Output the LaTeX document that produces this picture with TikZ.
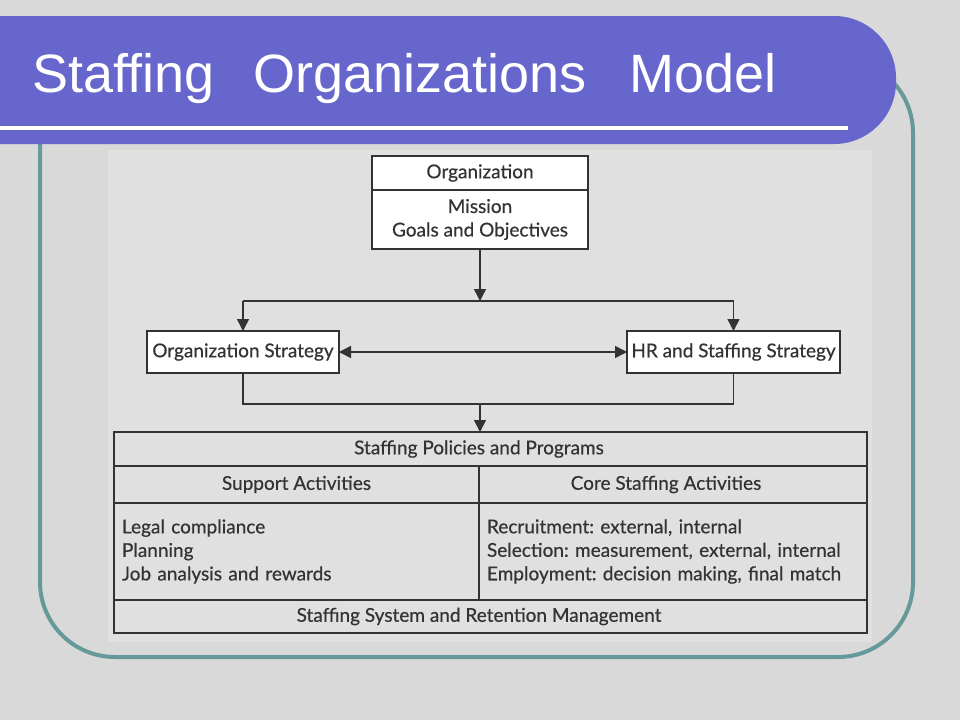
\documentclass[tikz,border=0pt]{standalone}
\usepackage{fontspec}
\setmainfont[FakeBold=0.5]{Lato}
\newfontfamily\titlefont{Liberation Sans}
\usetikzlibrary{arrows.meta, positioning}
\frenchspacing

\definecolor{slidegray}{HTML}{D9D9D9}
\definecolor{picgray}{HTML}{E0E0E0}
\definecolor{bannerblue}{HTML}{6666CC}
\definecolor{frameteal}{HTML}{669999}
\definecolor{inkgray}{HTML}{333333}

\tikzset{
  box/.style={draw=inkgray, line width=1.5pt, fill=white, text=inkgray,
              font=\fontsize{19}{23.5}\selectfont, inner sep=0pt, outer sep=0pt},
  cell/.style={box, fill=none},
  wire/.style={draw=inkgray, line width=1.5pt},
  link/.style={wire, -{Triangle[length=12pt, width=12pt]}},
  twoway/.style={wire, {Triangle[length=12pt, width=12pt]}-{Triangle[length=12pt, width=12pt]}},
}

\begin{document}
\begin{tikzpicture}[x=1pt, y=-1pt]
  \useasboundingbox (0,0) rectangle (960,720);
  \fill[slidegray] (0,0) rectangle (960,720);

  % Frame and picture area
  \draw[frameteal, line width=4pt, rounded corners=75] (40,58) rectangle (913,657);
  \fill[picgray] (108,150) rectangle (872,642);

  % Title banner
  \fill[bannerblue, rounded corners=62] (-100,16) rectangle (896,144);
  \draw[white, line width=4pt] (-5,128) -- (848,128);
  \node[anchor=base west, inner sep=0pt, text=white,
        font=\titlefont\fontsize{54}{60}\selectfont] (title) at (32,92)
    {Staffing\hspace{39pt}Organizations\hspace{43pt}Model};

  % Organization box
  \node[box, minimum width=216, minimum height=34] (org) at (480,173) {Organization};
  \node[box, minimum width=216, minimum height=59, align=center,
        below=0pt of org] (mission) {Mission\\Goals and Objectives};

  % Strategies
  \node[box, minimum width=192, minimum height=42] (orgstrat) at (243,352)
    {Organization Strategy};
  \node[box, minimum width=213, minimum height=42] (hrstrat) at (733.5,352)
    {HR and Staffing Strategy};

  \coordinate (split) at (480,301);
  \coordinate (join) at (480,404);

  % Staffing table
  \node[cell, minimum width=753, minimum height=34] (policies) at (490.5,449)
    {\hspace*{-23pt}Staffing Policies and Programs};
  \node[cell, minimum width=365, minimum height=37] (supporthead) at (296.5,484.5)
    {Support Activities};
  \node[cell, minimum width=388, minimum height=37] (corehead) at (673,484.5)
    {\hspace*{-14pt}Core Staffing Activities};
  \node[cell, minimum width=365, minimum height=97, text width=349, align=left]
    (supportlist) at (296.5,551.5)
    {Legal compliance\\Planning\\Job analysis and rewards};
  \node[cell, minimum width=388, minimum height=97, text width=372, align=left]
    (corelist) at (673,551.5)
    {Recruitment: external, internal\\Selection: measurement, external, internal\\Employment: decision making, final match};
  \node[cell, minimum width=753, minimum height=33] (retention) at (490.5,616.5)
    {\hspace*{-23pt}Staffing System and Retention Management};

  % Connectors
  \draw[link] (mission.south) -- (split);
  \draw[wire] (orgstrat.north |- split) -- (hrstrat.north |- split);
  \draw[link] (orgstrat.north |- split) -- (orgstrat.north);
  \draw[link] (hrstrat.north |- split) -- (hrstrat.north);
  \draw[twoway] (orgstrat.east) -- (hrstrat.west);
  \draw[wire] (orgstrat.south) |- (join) -| (hrstrat.south);
  \draw[link] (join) -- (join |- policies.north);
\end{tikzpicture}
\end{document}
